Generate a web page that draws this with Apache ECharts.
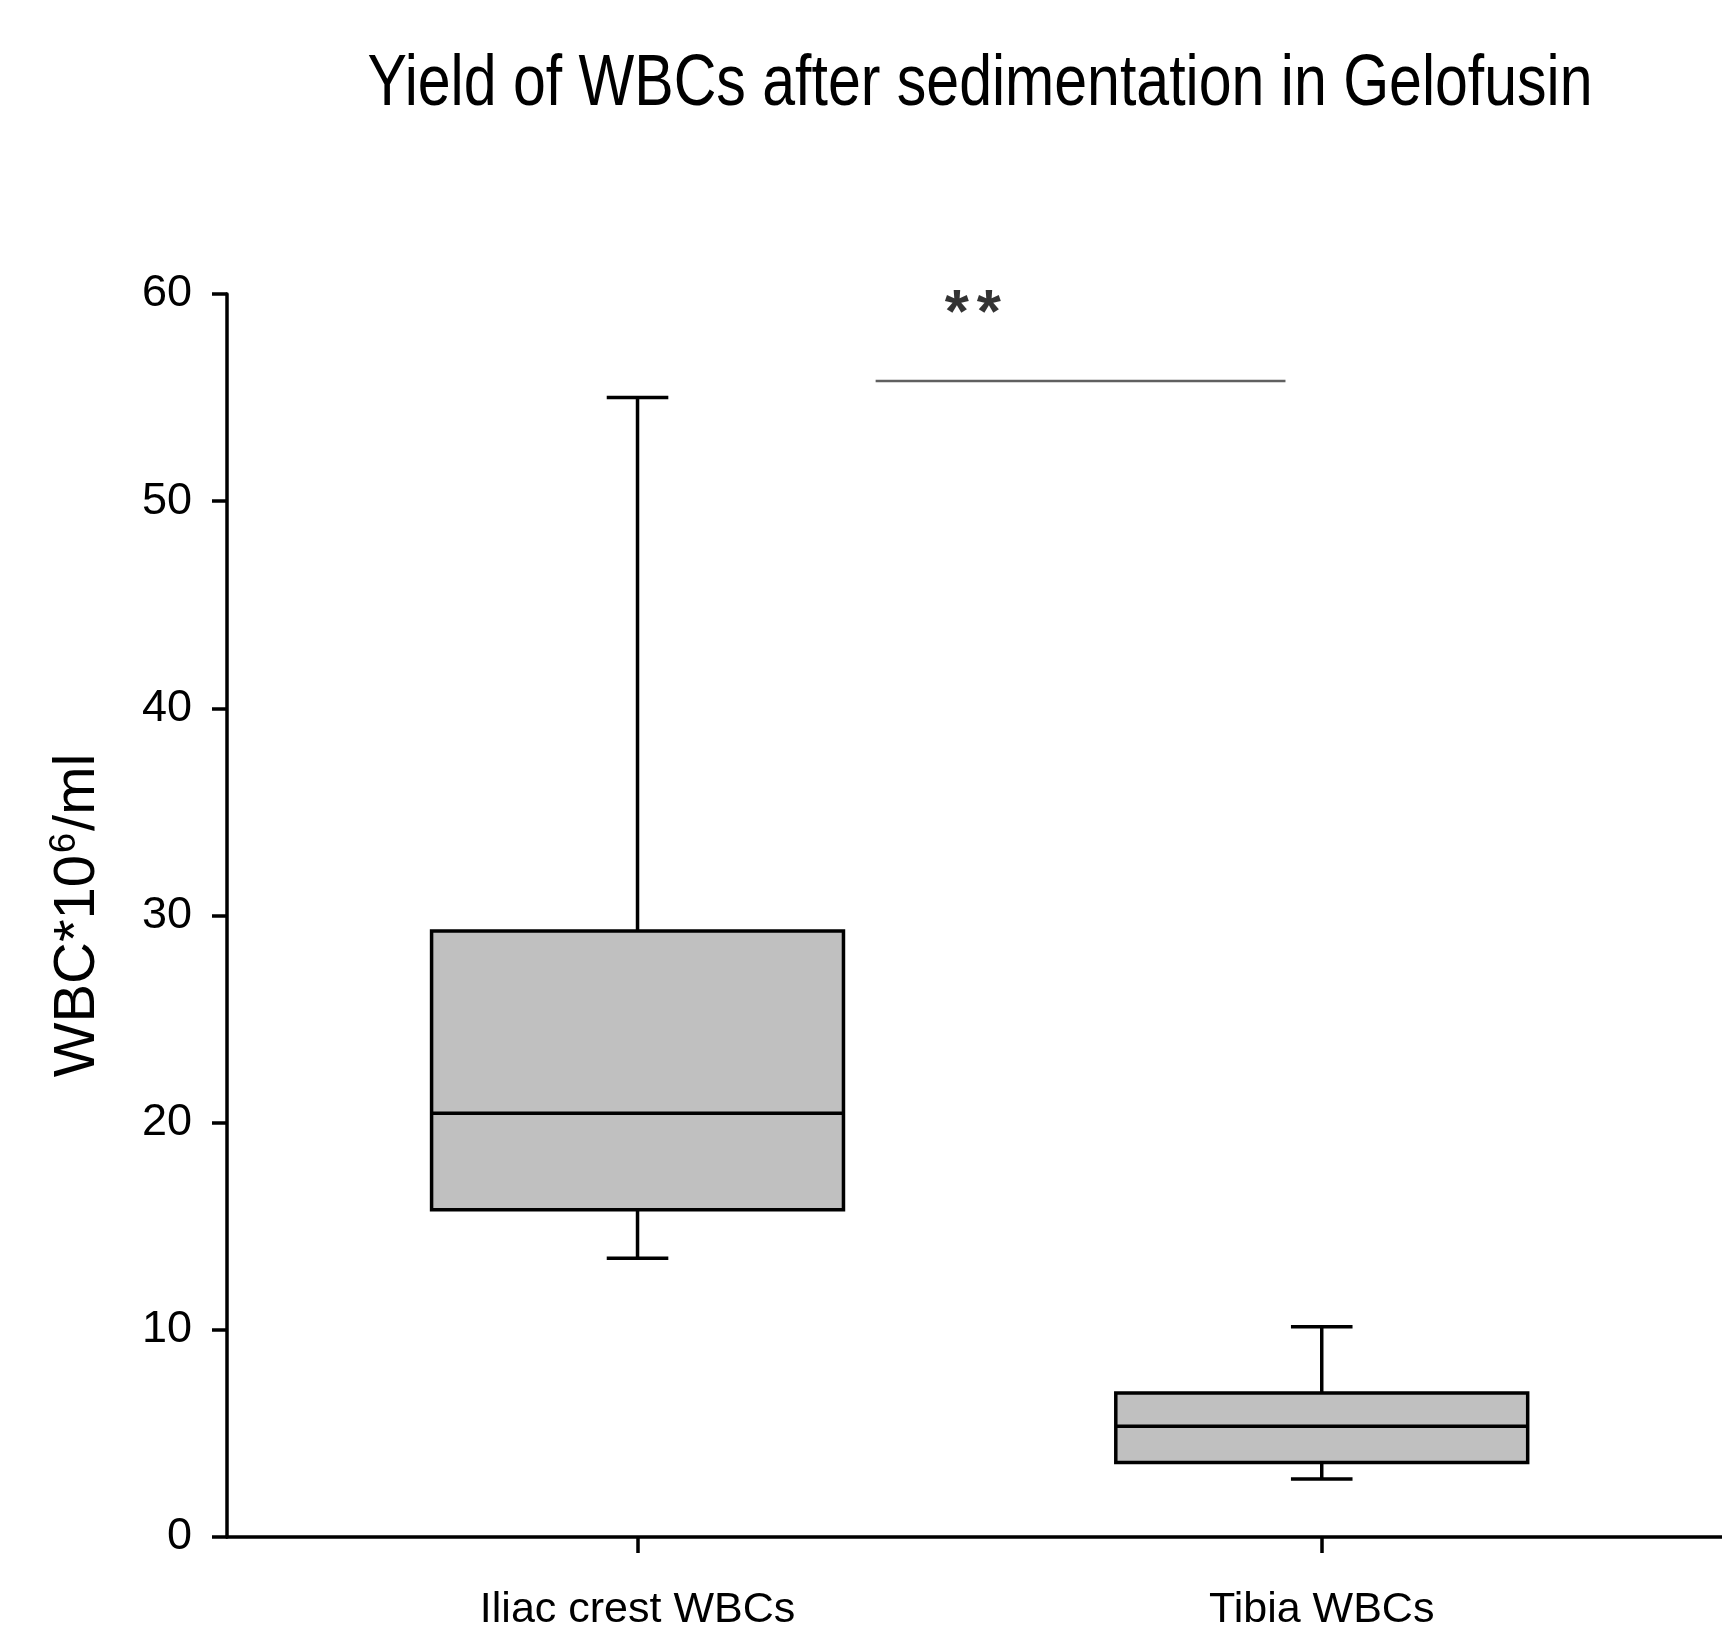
<!DOCTYPE html>
<html>
<head>
<meta charset="utf-8">
<script src="https://cdn.jsdelivr.net/npm/echarts@6/dist/echarts.min.js"></script>
<style>html,body{margin:0;padding:0;background:#fff}#c{width:1722px;height:1632px}</style>
</head>
<body>
<div id="c"></div>
<script>
// ---- data ----
const categories = ['Iliac crest WBCs', 'Tibia WBCs'];
const positions = [1, 2];
const whiskerLow = [13.45, 2.8];
const q1Values = [15.8, 3.6];
const medianValues = [20.45, 5.35];
const q3Values = [29.25, 6.95];
const whiskerHigh = [55.0, 10.15];
const yTickMin = 0, yTickMax = 60, yTickStep = 10;
const sigLineX = [1.348, 1.947];
const sigLineY = 55.8;
const sigTextPos = [1.49, 59.0];
const titleText = 'Yield of WBCs after sedimentation in Gelofusin';

const REG = "'Liberation Sans',Arial,sans-serif";

const boxData = positions.map((p, i) => [p, whiskerLow[i], q1Values[i], medianValues[i], q3Values[i], whiskerHigh[i]]);

const chart = echarts.init(document.getElementById('c'), null, {renderer: 'canvas'});
chart.setOption({
  animation: false,
  backgroundColor: '#fff',
  graphic: [{
    type: 'text', x: 980, y: 85, scaleX: 0.82, scaleY: 1,
    style: {text: titleText, font: '72px ' + REG, fill: '#000', align: 'center', verticalAlign: 'middle'}
  }],
  grid: {left: 227, right: 0, top: 294, bottom: 95, containLabel: false},
  xAxis: {
    type: 'value', min: 0.4, max: 2.585,
    splitLine: {show: false},
    axisLine: {show: true, onZero: false, lineStyle: {color: '#000', width: 3.5}},
    axisTick: {show: true, customValues: positions, length: 16, inside: false, lineStyle: {color: '#000', width: 3.5}},
    axisLabel: {show: true, customValues: positions, margin: 52, fontSize: 43, fontFamily: REG, color: '#000',
      formatter: v => categories[positions.indexOf(v)] || ''}
  },
  yAxis: {
    type: 'value', min: yTickMin, max: yTickMax, interval: yTickStep,
    splitLine: {show: false},
    axisLine: {show: true, onZero: false, lineStyle: {color: '#000', width: 3.5}},
    axisTick: {show: true, length: 15, inside: false, lineStyle: {color: '#000', width: 3.5}},
    axisLabel: {margin: 35, fontSize: 45, fontFamily: REG, color: '#000'},
    name: '{m|WBC*10}{s|6}{m|/ml}',
    nameLocation: 'middle', nameRotate: 90, nameGap: 118,
    nameTextStyle: {
      rich: {
        m: {fontSize: 58, fontFamily: REG, color: '#000'},
        s: {fontSize: 36, fontFamily: REG, color: '#000', verticalAlign: 'top', padding: [0, 2, 26, 2]}
      }
    }
  },
  series: [
    {
      type: 'custom',
      data: boxData,
      encode: {x: 0, y: [1, 2, 3, 4, 5]},
      renderItem: function (params, api) {
        const x = api.value(0);
        const pLow = api.coord([x, api.value(1)]);
        const pQ1 = api.coord([x, api.value(2)]);
        const pMed = api.coord([x, api.value(3)]);
        const pQ3 = api.coord([x, api.value(4)]);
        const pHigh = api.coord([x, api.value(5)]);
        const half = api.size([0.602, 0])[0] / 2;
        const capHalf = api.size([0.09, 0])[0] / 2;
        const cx = pMed[0];
        const ls = {stroke: '#000', lineWidth: 3.5};
        return {
          type: 'group',
          children: [
            {type: 'line', shape: {x1: cx, y1: pQ3[1], x2: cx, y2: pHigh[1]}, style: ls},
            {type: 'line', shape: {x1: cx - capHalf, y1: pHigh[1], x2: cx + capHalf, y2: pHigh[1]}, style: ls},
            {type: 'line', shape: {x1: cx, y1: pQ1[1], x2: cx, y2: pLow[1]}, style: ls},
            {type: 'line', shape: {x1: cx - capHalf, y1: pLow[1], x2: cx + capHalf, y2: pLow[1]}, style: ls},
            {type: 'rect', shape: {x: cx - half, y: pQ3[1], width: 2 * half, height: pQ1[1] - pQ3[1]},
              style: {fill: '#c0c0c0', stroke: '#000', lineWidth: 3.5}},
            {type: 'line', shape: {x1: cx - half, y1: pMed[1], x2: cx + half, y2: pMed[1]}, style: ls}
          ]
        };
      }
    },
    {
      type: 'line',
      data: sigLineX.map(x => [x, sigLineY]),
      symbol: 'none',
      lineStyle: {color: '#606060', width: 2.5},
      silent: true
    },
    {
      type: 'scatter',
      data: [sigTextPos],
      symbolSize: 0,
      silent: true,
      label: {
        show: true, position: 'inside', formatter: '{a|*}{b|*}',
        rich: {
          a: {fontSize: 62, fontWeight: 'bold', fontFamily: REG, color: '#000'},
          b: {fontSize: 62, fontWeight: 'bold', fontFamily: REG, color: '#000', padding: [0, 0, 0, 8]}
        }
      }
    }
  ]
});
</script>
</body>
</html>
